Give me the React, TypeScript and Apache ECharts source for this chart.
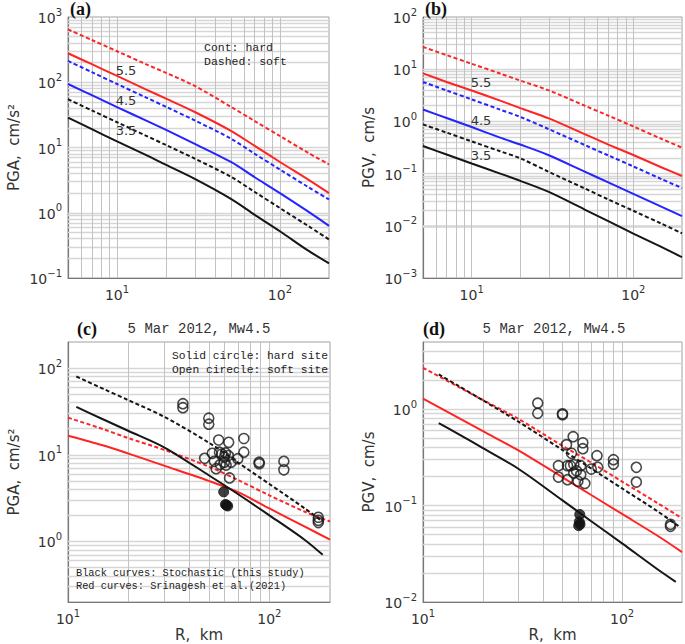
import React, { useEffect, useRef } from "react";
import * as echarts from "echarts";

// ---------- data ----------
const R_AB = [5, 7, 10, 15, 20, 30, 50, 70, 100, 150, 200];

// (a) PGA, cm/s^2
const pgaHard55 = [278, 189, 125, 78, 56, 35, 18, 10.6, 6.0, 3.2, 2.0];
const pgaSoft55 = [645, 444, 299, 190, 139, 88, 42, 25.4, 15, 8.2, 5.5];
const pgaHard45 = [94, 63.5, 41.7, 26, 18.6, 11.4, 6.0, 3.5, 2.0, 1.03, 0.63];
const pgaSoft45 = [212, 143, 94, 58.7, 42, 26, 13.7, 8.0, 4.6, 2.45, 1.6];
const pgaHard35 = [28.6, 19.1, 12.4, 7.7, 5.4, 3.3, 1.63, 0.93, 0.52, 0.26, 0.168];
const pgaSoft35 = [55, 37, 24.4, 15.2, 10.9, 6.75, 3.56, 2.08, 1.18, 0.62, 0.39];

// (b) PGV, cm/s
const pgvHard55 = [8.3, 5.7, 3.9, 2.5, 1.8, 1.14, 0.57, 0.36, 0.227, 0.131, 0.09];
const pgvSoft55 = [26.7, 18.6, 12.7, 8.25, 6.05, 3.93, 2.0, 1.29, 0.8, 0.46, 0.315];
const pgvHard45 = [1.69, 1.16, 0.78, 0.49, 0.36, 0.225, 0.109, 0.068, 0.041, 0.023, 0.0153];
const pgvSoft45 = [5.7, 3.92, 2.64, 1.68, 1.22, 0.71, 0.353, 0.223, 0.137, 0.078, 0.053];
const pgvHard35 = [0.337, 0.232, 0.156, 0.1, 0.0725, 0.0445, 0.0205, 0.0123, 0.0071, 0.0039, 0.0025];
const pgvSoft35 = [0.875, 0.61, 0.414, 0.268, 0.196, 0.108, 0.052, 0.032, 0.0194, 0.0109, 0.0072];

// (c) 5 Mar 2012 Mw4.5 PGA
const R_RED_C = [10, 15, 20, 30, 50, 70, 100, 150, 200];
const pgaSriHard = [16.6, 12.8, 10.3, 7.5, 5.0, 3.7, 2.4, 1.48, 1.05];
const pgaSriSoft = [26.8, 19.7, 15.5, 11.4, 7.3, 5.1, 3.4, 2.2, 1.7];
const R_STOCH_C = [11, 15, 20, 30, 50, 70, 100, 150, 184];
const pgaStochSoft = [80, 57.5, 42.5, 27.5, 13.8, 8.1, 4.6, 2.4, 1.69];
const pgaStochHard = [35.6, 25.5, 18.8, 12.2, 5.8, 3.5, 2.0, 1.04, 0.7];
const pgaObsSoft: [number, number][] = [
  [37.2, 38.8], [37.2, 34.9], [50, 26.4], [50, 22.5], [56, 14.8], [62.8, 13.9],
  [74.7, 15.4], [74.7, 10.7], [47.7, 9.1], [52, 10.4], [56.5, 10.7], [58, 10.2],
  [60.5, 10.5], [62.5, 9.8], [53.3, 8.4], [54.4, 6.9], [59.8, 9.4], [59.8, 8.2],
  [64.6, 8.2], [69.7, 9.0], [63.4, 5.4], [57, 7.7], [61, 7.6], [89, 8.2],
  [89, 7.9], [118, 8.4], [118, 6.7], [175, 1.9], [175, 1.65], [175, 1.75],
];
const pgaObsHard: [number, number][] = [[59.3, 3.73], [60.5, 2.67], [62.1, 2.56], [61.2, 2.62]];

// (d) 5 Mar 2012 Mw4.5 PGV
const R_RED_D = [10, 15, 20, 30, 50, 70, 100, 150, 200];
const pgvSriSoft = [2.7, 1.72, 1.25, 0.8, 0.42, 0.28, 0.178, 0.107, 0.074];
const pgvSriHard = [1.29, 0.82, 0.594, 0.377, 0.198, 0.129, 0.082, 0.049, 0.033];
const R_STOCH_D_SOFT = [12, 15, 20, 30, 50, 70, 100, 150, 195];
const pgvStochSoft = [2.3, 1.76, 1.24, 0.75, 0.38, 0.243, 0.151, 0.088, 0.06];
const R_STOCH_D_HARD = [12, 15, 20, 30, 50, 70, 100, 150, 186];
const pgvStochHard = [0.72, 0.557, 0.395, 0.243, 0.114, 0.069, 0.0406, 0.022, 0.0162];
const pgvObsSoft: [number, number][] = [
  [37.7, 1.16], [37.7, 0.91], [50.2, 0.9], [50.2, 0.88], [56.8, 0.52], [52.6, 0.43],
  [63.5, 0.45], [63.5, 0.39], [55.7, 0.35], [74.8, 0.33], [90.5, 0.3], [90.5, 0.27],
  [118, 0.25], [118, 0.176], [175, 0.064], [175, 0.061], [47.9, 0.26], [47.9, 0.198],
  [53.2, 0.26], [53.2, 0.186], [57.2, 0.267], [57.2, 0.218], [62, 0.26], [62, 0.21],
  [60, 0.179], [65, 0.17], [70, 0.24], [75.5, 0.25], [55, 0.26], [59, 0.23],
];
const pgvObsHard: [number, number][] = [[61.3, 0.081], [61, 0.068], [60.5, 0.062], [61.5, 0.064]];

// axis ranges
const X_AB = [5, 200];
const Y_A = [0.1, 1000];
const Y_B = [0.001, 100];
const X_CD = [10, 200];
const Y_C = [0.2, 200];
const Y_D = [0.01, 5];

// ---------- styling ----------
const RED = "#ff2424";
const BLUE = "#2424ff";
const BLACK = "#161616";
const SANS = "DejaVu Sans";
const MONO = "Liberation Mono";

function gridValues(min: number, max: number): number[] {
  const out: number[] = [];
  const d0 = Math.floor(Math.log10(min));
  const d1 = Math.ceil(Math.log10(max));
  for (let d = d0; d <= d1; d++) {
    for (let m = 1; m <= 9; m++) {
      const v = Number((m * Math.pow(10, d)).toPrecision(6));
      if (v > min * 1.0001 && v < max * 0.9999) out.push(v);
    }
  }
  return out;
}

function supLabel(v: number): string {
  const e = Math.log10(v);
  const r = Math.round(e);
  if (Math.abs(e - r) > 1e-6) return "";
  const exp = r < 0 ? "\u2212" + Math.abs(r) : String(r);
  return `{b|10}{s|${exp}}`;
}

const rich = {
  b: { fontSize: 14, fontFamily: SANS, color: "#333", verticalAlign: "bottom", lineHeight: 16 },
  s: { fontSize: 10, fontFamily: SANS, color: "#333", verticalAlign: "bottom", lineHeight: 16, padding: [0, 0, 8, 0] },
};

const GRIDS = [
  { left: 68, top: 17, width: 261, height: 261 },
  { left: 423, top: 17, width: 260, height: 261 },
  { left: 68, top: 342, width: 262, height: 260 },
  { left: 423, top: 342, width: 261, height: 260 },
];

function makeX(i: number, range: number[], name?: string) {
  return {
    type: "log",
    gridIndex: i,
    min: range[0],
    max: range[1],
    logBase: 10,
    name: name || "",
    nameLocation: "middle",
    nameGap: 25,
    nameTextStyle: { fontFamily: SANS, fontSize: 15, color: "#333" },
    axisLine: { show: true, lineStyle: { color: "#777", width: 1.2 } },
    axisTick: { show: false },
    splitLine: { show: false },
    axisLabel: { formatter: supLabel, rich, margin: 8 },
  };
}

function makeY(i: number, range: number[], name: string) {
  return {
    type: "log",
    gridIndex: i,
    min: range[0],
    max: range[1],
    logBase: 10,
    name,
    nameLocation: "middle",
    nameGap: 47,
    nameRotate: 90,
    nameTextStyle: { fontFamily: SANS, fontSize: 15, color: "#333" },
    axisLine: { show: true, lineStyle: { color: "#777", width: 1.2 } },
    axisTick: { show: false },
    splitLine: { show: false },
    axisLabel: { formatter: supLabel, rich, margin: 6 },
  };
}

function gridSeries(i: number, xr: number[], yr: number[]) {
  const xs = gridValues(xr[0], xr[1]);
  const ys = gridValues(yr[0], yr[1]);
  return {
    type: "line",
    xAxisIndex: i,
    yAxisIndex: i,
    data: [],
    silent: true,
    z: 1,
    markLine: {
      silent: true,
      z: 1,
      symbol: ["none", "none"],
      label: { show: false },
      emphasis: { disabled: true },
      data: [
        ...ys.map((v) => ({ yAxis: v, lineStyle: { color: "#d6d6d6", width: 1.3, type: "solid" } })),
        ...xs.map((v) => ({ xAxis: v, lineStyle: { color: "#c2c2c2", width: 1, type: "solid" } })),
      ],
    },
  };
}

function curve(i: number, xs: number[], ys: number[], color: string, dashed: boolean) {
  return {
    type: "line",
    xAxisIndex: i,
    yAxisIndex: i,
    data: xs.map((x, k) => [x, ys[k]]),
    showSymbol: false,
    symbol: "none",
    smooth: 0.3,
    silent: true,
    z: 3,
    lineStyle: { color, width: 2, type: dashed ? [4, 2.5] : "solid" },
  };
}

function scatter(i: number, pts: [number, number][], filled: boolean) {
  return {
    type: "scatter",
    xAxisIndex: i,
    yAxisIndex: i,
    data: pts,
    symbol: "circle",
    symbolSize: 10,
    silent: true,
    z: 4,
    itemStyle: filled
      ? { color: "#111", borderColor: "#111", borderWidth: 1 }
      : { color: "rgba(0,0,0,0)", borderColor: "#1a1a1a", borderWidth: 1.6 },
  };
}

function txt(x: number, y: number, text: string, font: string, align = "left", fill = "#222") {
  return {
    type: "text",
    x,
    y,
    silent: true,
    z: 10,
    style: { text, font, fill, align, verticalAlign: "middle" },
  };
}

export default function App() {
  const ref = useRef<HTMLDivElement>(null);
  useEffect(() => {
    if (!ref.current) return;
    const chart = echarts.init(ref.current, undefined, { renderer: "svg" });
    const option: any = {
      animation: false,
      backgroundColor: "#fff",
      grid: GRIDS.map((g) => ({ ...g, show: true, borderColor: "#a0a0a0", borderWidth: 1, backgroundColor: "transparent" })),
      xAxis: [makeX(0, X_AB), makeX(1, X_AB), makeX(2, X_CD, "R,  km"), makeX(3, X_CD, "R,  km")],
      yAxis: [
        makeY(0, Y_A, "PGA,  cm/s\u00B2"),
        makeY(1, Y_B, "PGV,  cm/s"),
        makeY(2, Y_C, "PGA,  cm/s\u00B2"),
        makeY(3, Y_D, "PGV,  cm/s"),
      ],
      series: [
        gridSeries(0, X_AB, Y_A),
        gridSeries(1, X_AB, Y_B),
        gridSeries(2, X_CD, Y_C),
        gridSeries(3, X_CD, Y_D),
        // (a)
        curve(0, R_AB, pgaSoft55, RED, true),
        curve(0, R_AB, pgaHard55, RED, false),
        curve(0, R_AB, pgaSoft45, BLUE, true),
        curve(0, R_AB, pgaHard45, BLUE, false),
        curve(0, R_AB, pgaSoft35, BLACK, true),
        curve(0, R_AB, pgaHard35, BLACK, false),
        // (b)
        curve(1, R_AB, pgvSoft55, RED, true),
        curve(1, R_AB, pgvHard55, RED, false),
        curve(1, R_AB, pgvSoft45, BLUE, true),
        curve(1, R_AB, pgvHard45, BLUE, false),
        curve(1, R_AB, pgvSoft35, BLACK, true),
        curve(1, R_AB, pgvHard35, BLACK, false),
        // (c)
        curve(2, R_RED_C, pgaSriSoft, RED, true),
        curve(2, R_RED_C, pgaSriHard, RED, false),
        curve(2, R_STOCH_C, pgaStochSoft, BLACK, true),
        curve(2, R_STOCH_C, pgaStochHard, BLACK, false),
        scatter(2, pgaObsSoft, false),
        scatter(2, pgaObsHard, true),
        // (d)
        curve(3, R_RED_D, pgvSriSoft, RED, true),
        curve(3, R_RED_D, pgvSriHard, RED, false),
        curve(3, R_STOCH_D_SOFT, pgvStochSoft, BLACK, true),
        curve(3, R_STOCH_D_HARD, pgvStochHard, BLACK, false),
        scatter(3, pgvObsSoft, false),
        scatter(3, pgvObsHard, true),
      ],
      graphic: [
        txt(70, 9, "(a)", 'bold 18px "Liberation Serif"', "left", "#111"),
        txt(425, 9, "(b)", 'bold 18px "Liberation Serif"', "left", "#111"),
        txt(77, 329, "(c)", 'bold 18px "Liberation Serif"', "left", "#111"),
        txt(423, 329, "(d)", 'bold 18px "Liberation Serif"', "left", "#111"),
        txt(199, 329, "5 Mar 2012, Mw4.5", `14px "${MONO}"`, "center", "#333"),
        txt(554, 329, "5 Mar 2012, Mw4.5", `14px "${MONO}"`, "center", "#333"),
        txt(204, 47, "Cont: hard", `11.5px "${MONO}"`),
        txt(204, 61, "Dashed: soft", `11.5px "${MONO}"`),
        txt(126, 70, "5.5", `13px "${SANS}"`, "center", "#333"),
        txt(126, 100, "4.5", `13px "${SANS}"`, "center", "#333"),
        txt(126, 130, "3.5", `13px "${SANS}"`, "center", "#333"),
        txt(481, 82, "5.5", `13px "${SANS}"`, "center", "#333"),
        txt(481, 120, "4.5", `13px "${SANS}"`, "center", "#333"),
        txt(481, 155, "3.5", `13px "${SANS}"`, "center", "#333"),
        txt(328, 356, "Solid circle: hard site", `11.3px "${MONO}"`, "right"),
        txt(328, 370, "Open cirecle: soft site", `11.3px "${MONO}"`, "right"),
        txt(76, 573, "Black curves: Stochastic (this study)", `10.3px "${MONO}"`),
        txt(76, 586, "Red curves: Srinagesh et al.(2021)", `10.3px "${MONO}"`),
      ],
    };
    chart.setOption(option);
    return () => chart.dispose();
  }, []);
  return (
    <div
      ref={ref}
      style={{ position: "fixed", left: 0, top: 0, width: 685, height: 644, background: "#fff" }}
    />
  );
}
